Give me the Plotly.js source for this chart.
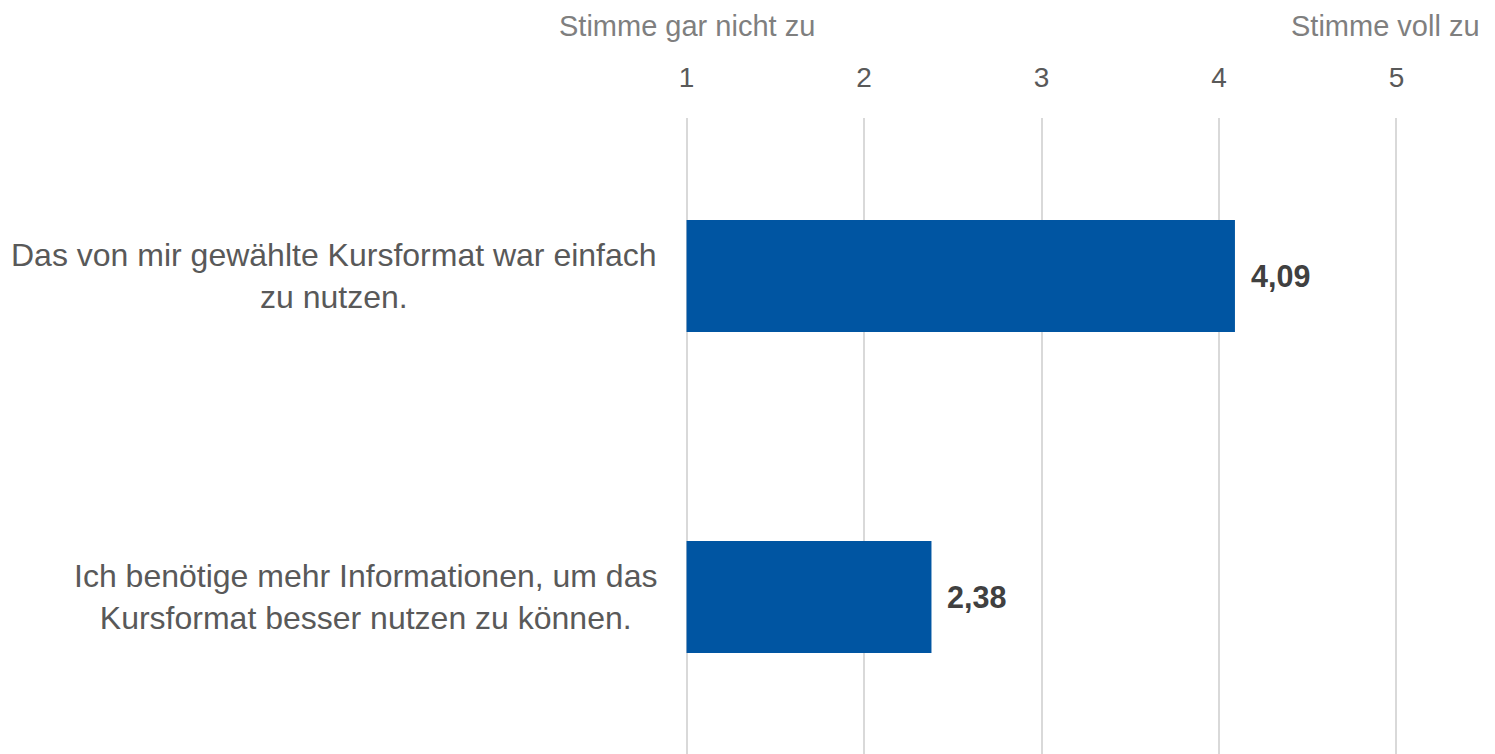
<!DOCTYPE html>
<html>
<head>
<meta charset="utf-8">
<script src="https://cdn.plot.ly/plotly-3.0.1.min.js"></script>
<style>html,body{margin:0;padding:0;background:#fff;}#chart{width:1495px;height:754px;}</style>
</head>
<body>
<div id="chart"></div>
<script>
const categories = ["Das von mir gewählte Kursformat war einfach<br>zu nutzen.", "Ich benötige mehr Informationen, um das<br>Kursformat besser nutzen zu können."];
const values = [4.09, 2.38];
const tickValues = [1, 2, 3, 4, 5];
const tickLabels = ["1", "2", "3", "4", "5"];
const scaleLabels = ["Stimme gar nicht zu", "Stimme voll zu"];

const FONT = "Liberation Sans, Arial, sans-serif";
const catIds = categories.map((c, i) => "c" + i);
const scaleMin = tickValues[0];

// bars start at the scale minimum (1) and end at the value
const trace = {
  type: "bar",
  orientation: "h",
  y: catIds,
  base: scaleMin,
  x: values.map(v => v - scaleMin),
  marker: {color: "#0055A2"},
  hoverinfo: "none"
};

// x-range padded slightly so the gridlines at 1 and 5 are drawn
const XMIN = 0.98, XMAX = 5.02;
const unitPx = 177.25;
const marginL = 687 - (1 - XMIN) * unitPx;
const marginR = 1495 - (1396 + (XMAX - 5) * unitPx);
const plotW = 1495 - marginL - marginR;

const annotations = [];
categories.forEach((c, i) => {
  annotations.push({
    xref: "paper", yref: "y", x: (659 - marginL) / plotW, y: catIds[i],
    xanchor: "right", yanchor: "middle", align: "center",
    text: c, showarrow: false,
    font: {family: FONT, size: 32, color: "#595959"}
  });
  annotations.push({
    xref: "x", yref: "y", x: values[i], y: catIds[i],
    xanchor: "left", yanchor: "middle", xshift: 14,
    text: "<b>" + values[i].toFixed(2).replace(".", ",") + "</b>", showarrow: false,
    font: {family: FONT, size: 30.5, color: "#404040"}
  });
});
annotations.push({
  xref: "x", yref: "paper", x: tickValues[0], y: 1.1447,
  xanchor: "center", yanchor: "middle", text: scaleLabels[0], showarrow: false,
  font: {family: FONT, size: 29, color: "#7f7f7f"}
});
annotations.push({
  xref: "x", yref: "paper", x: tickValues[tickValues.length - 1], y: 1.1447, xshift: -11,
  xanchor: "center", yanchor: "middle", text: scaleLabels[1], showarrow: false,
  font: {family: FONT, size: 29, color: "#7f7f7f"}
});

const layout = {
  width: 1495, height: 754,
  margin: {l: marginL, r: marginR, t: 118, b: 0, pad: 0},
  paper_bgcolor: "#fff", plot_bgcolor: "#fff",
  showlegend: false,
  bargap: 0.651,
  xaxis: {
    side: "top", range: [XMIN, XMAX],
    tickvals: tickValues, ticktext: tickLabels,
    showgrid: true, gridcolor: "#d9d9d9", gridwidth: 2,
    zeroline: false, showline: false, ticks: "",
    ticklabelstandoff: 24,
    tickfont: {family: FONT, size: 28, color: "#595959"},
    fixedrange: true
  },
  yaxis: {
    type: "category", range: [1.489, -0.492],
    showticklabels: false, showgrid: false, zeroline: false, showline: false, ticks: "",
    fixedrange: true
  },
  annotations: annotations
};

Plotly.newPlot("chart", [trace], layout, {displayModeBar: false, staticPlot: true});
</script>
</body>
</html>
